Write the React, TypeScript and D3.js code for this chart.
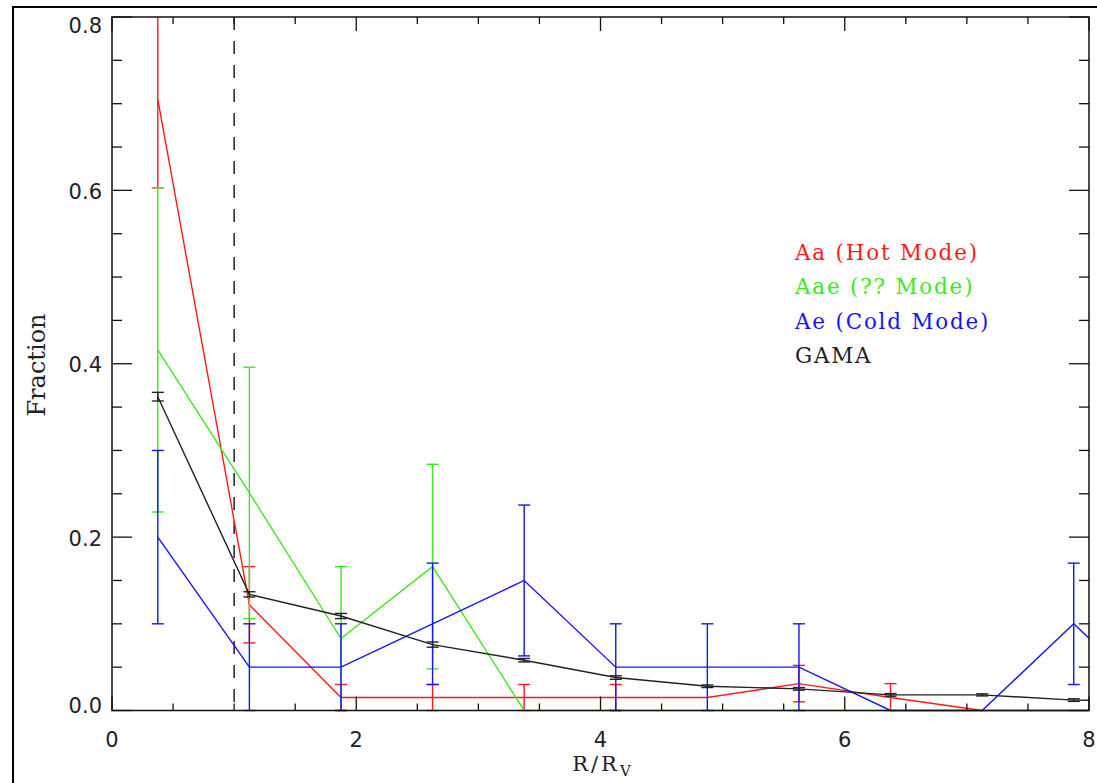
import React from 'react';
import * as d3 from 'd3';

// Bin centres in R/Rv
const binCenters = [0.375, 1.125, 1.875, 2.625, 3.375, 4.125, 4.875, 5.625, 6.375, 7.125, 7.875, 8.625];

// Aa (Hot Mode)
const hotValues = [0.705, 0.122, 0.015, 0.015, 0.015, 0.015, 0.015, 0.031, 0.015, 0, 0, 0];
const hotErrors = [0.102, 0.044, 0.015, 0.015, 0.015, 0.015, 0, 0.021, 0.016, 0, 0, 0];
// Aae (?? Mode)
const midValues = [0.416, 0.251, 0.083, 0.166, 0, 0, 0, 0, 0, 0, 0, 0];
const midErrors = [0.187, 0.145, 0.083, 0.118, 0, 0, 0, 0, 0, 0, 0, 0];
// Ae (Cold Mode)
const coldValues = [0.2, 0.05, 0.05, 0.1, 0.15, 0.05, 0.05, 0.05, 0, 0, 0.1, 0];
const coldErrors = [0.1, 0.05, 0.05, 0.07, 0.087, 0.05, 0.05, 0.05, 0, 0, 0.07, 0];
// GAMA
const gamaValues = [0.362, 0.134, 0.109, 0.076, 0.058, 0.038, 0.028, 0.025, 0.018, 0.018, 0.012, 0.011];
const gamaErrors = [0.005, 0.003, 0.003, 0.003, 0.002, 0.002, 0.0015, 0.0015, 0.0015, 0.0012, 0.0015, 0.001];

const legendLabels = ['Aa (Hot Mode)', 'Aae (?? Mode)', 'Ae (Cold Mode)', 'GAMA'];
const seriesColors = ['#ff1a1a', '#3ce81e', '#1414ff', '#222222'];

const xTickValues = [0, 2, 4, 6, 8];
const yTickValues = [0, 0.2, 0.4, 0.6, 0.8];
const virialRadius = 1;

const W = 1097;
const H = 783;
const PL = 112;
const PR = 1089;
const PT = 17;
const PB = 710.5;

export default function App() {
  const x = d3.scaleLinear().domain([0, 8]).range([PL, PR]);
  const y = d3.scaleLinear().domain([0, 0.8]).range([PB, PT]);
  const xMinor = x.ticks(16);
  const yMinor = y.ticks(16);
  const fmt = d3.format('.1f');

  const series = [
    { values: hotValues, errors: hotErrors },
    { values: midValues, errors: midErrors },
    { values: coldValues, errors: coldErrors },
    { values: gamaValues, errors: gamaErrors },
  ];

  const line = d3
    .line<[number, number]>()
    .x((d) => x(d[0]))
    .y((d) => y(d[1]));

  const cap = 6;

  return (
    <svg
      width={W}
      height={H}
      style={{ position: 'absolute', left: 0, top: 0, background: '#fff' }}
    >
      <defs>
        <clipPath id="plotClip">
          <rect x={PL} y={PT} width={PR - PL} height={PB - PT + 1.5} />
        </clipPath>
      </defs>
      <rect x={0} y={0} width={W} height={H} fill="#fff" />
      {/* outer frame */}
      <rect x={13} y={7} width={W + 20} height={H + 20} fill="none" stroke="#000" strokeWidth={2} />

      {/* dashed virial radius line */}
      <line
        x1={x(virialRadius)}
        x2={x(virialRadius)}
        y1={PT}
        y2={PB}
        stroke="#000"
        strokeWidth={1.3}
        strokeDasharray="13,11"
      />

      <g clipPath="url(#plotClip)">
        {series.map((s, si) => {
          const pts: [number, number][] = binCenters.map((c, i) => [c, s.values[i]]);
          return (
            <g key={si} stroke={seriesColors[si]} fill="none" strokeWidth={1.4}>
              <path d={line(pts) || ''} />
              {binCenters.map((c, i) => {
                const e = s.errors[i];
                if (!e) return null;
                const cx = x(c);
                const lo = Math.max(0, s.values[i] - e);
                const hi = s.values[i] + e;
                return (
                  <g key={i}>
                    <line x1={cx} x2={cx} y1={y(lo)} y2={y(hi)} />
                    <line x1={cx - cap} x2={cx + cap} y1={y(lo)} y2={y(lo)} />
                    <line x1={cx - cap} x2={cx + cap} y1={y(hi)} y2={y(hi)} />
                  </g>
                );
              })}
            </g>
          );
        })}
      </g>

      {/* plot box */}
      <rect x={PL} y={PT} width={PR - PL} height={PB - PT} fill="none" stroke="#111" strokeWidth={1.5} />

      {/* ticks */}
      <g stroke="#111" strokeWidth={1.3}>
        {xMinor.map((t) => {
          const major = xTickValues.includes(t);
          const len = major ? 14 : 7;
          return (
            <g key={t}>
              <line x1={x(t)} x2={x(t)} y1={PB} y2={PB - len} />
              <line x1={x(t)} x2={x(t)} y1={PT} y2={PT + len} />
            </g>
          );
        })}
        {yMinor.map((t) => {
          const major = yTickValues.some((v) => Math.abs(v - t) < 1e-9);
          const len = major ? 20 : 10;
          return (
            <g key={t}>
              <line x1={PL} x2={PL + len} y1={y(t)} y2={y(t)} />
              <line x1={PR} x2={PR - len} y1={y(t)} y2={y(t)} />
            </g>
          );
        })}
      </g>

      {/* tick labels */}
      <g fontFamily="DejaVu Sans" fontSize={21} fill="#222">
        {xTickValues.map((t) => (
          <text key={t} x={x(t)} y={747} textAnchor="middle">
            {t}
          </text>
        ))}
        {yTickValues.map((t, i) => {
          const shift = i === 0 ? -5 : i === yTickValues.length - 1 ? 8 : 1;
          return (
            <text key={t} x={PL - 10} y={y(t) + shift + 7.5} textAnchor="end">
              {fmt(t)}
            </text>
          );
        })}
      </g>

      {/* axis titles */}
      <text
        x={45}
        y={365}
        transform="rotate(-90, 45, 365)"
        textAnchor="middle"
        fontFamily="DejaVu Serif"
        fontSize={24}
        fill="#222"
      >
        Fraction
      </text>
      <text
        x={603}
        y={771}
        textAnchor="middle"
        fontFamily="DejaVu Serif"
        fontSize={21}
        fill="#222"
        letterSpacing={3}
      >
        R/R
        <tspan fontSize={15} dy={5}>
          V
        </tspan>
      </text>

      {/* legend */}
      <g fontFamily="DejaVu Serif" fontSize={21.5} letterSpacing={1.8}>
        {legendLabels.map((lab, i) => (
          <text
            key={lab}
            transform={`translate(795, ${260 + i * 34.4}) scale(1, 1.05)`}
            fill={seriesColors[i]}
          >
            {lab}
          </text>
        ))}
      </g>
    </svg>
  );
}
